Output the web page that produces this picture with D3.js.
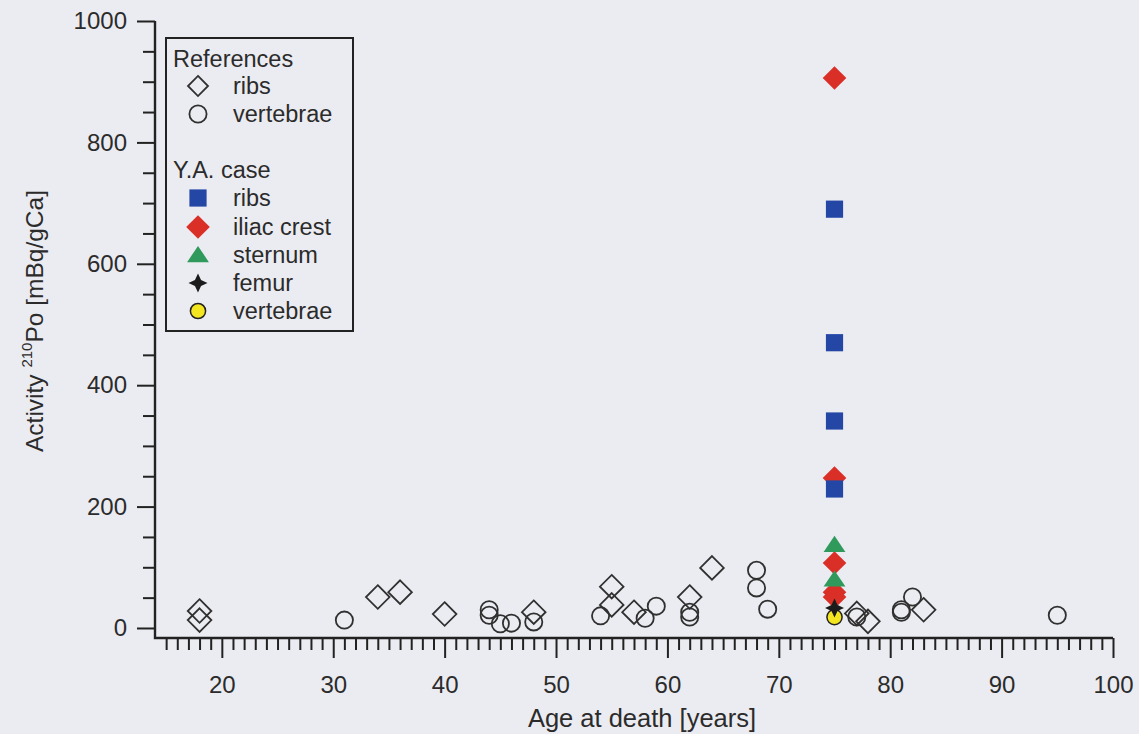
<!DOCTYPE html>
<html>
<head>
<meta charset="utf-8">
<script src="https://cdn.jsdelivr.net/npm/d3@7"></script>
<style>
  html, body { margin: 0; padding: 0; background: #ebecf1; }
  svg { display: block; }
  text { font-family: "Liberation Sans", Arial, sans-serif; fill: #2b2b2b; }
</style>
</head>
<body>
<svg id="chart" width="1139" height="734"></svg>
<script>
// Reference material: age at death and 210Po activity
const refRibsAge = [18, 18, 34, 36, 40, 48, 55, 55, 57, 62, 64, 77, 78, 83];
const refRibsVal = [28, 13, 51, 59, 23, 26, 68, 38, 26, 51, 99, 24, 11, 30];
const refVertAge = [31, 44, 44, 45, 46, 48, 54, 58, 59, 62, 62, 68, 68, 69, 77, 81, 81, 82, 95];
const refVertVal = [13, 30, 21, 7, 8, 10, 20, 16, 36, 26, 18, 95, 66, 31, 18, 30, 26, 51, 21];

// Y.A. case, all samples at the same age
const yaAge = 75;
const yaRibs = [690, 470, 341, 229];
const yaIliac = [906, 247, 107, 59, 51];
const yaSternum = [137, 80];
const yaFemur = [33];
const yaVert = [18];

const xMajorTicks = [20, 30, 40, 50, 60, 70, 80, 90, 100];
const yMajorTicks = [0, 200, 400, 600, 800, 1000];

const svg = d3.select("#chart");

const x = d3.scaleLinear().domain([14, 100]).range([155, 1113]);
const y = d3.scaleLinear().domain([-16.5, 1000]).range([638, 21]);

// ---- custom marker shapes ----
const diamondSym = { draw(ctx, s) { ctx.moveTo(0, -s); ctx.lineTo(s, 0); ctx.lineTo(0, s); ctx.lineTo(-s, 0); ctx.closePath(); } };
const squareSym = { draw(ctx, s) { ctx.rect(-s, -s, 2 * s, 2 * s); } };
const triSym = { draw(ctx, s) { ctx.moveTo(0, -s * 0.95); ctx.lineTo(s * 1.15, s * 0.75); ctx.lineTo(-s * 1.15, s * 0.75); ctx.closePath(); } };
const circleSym = { draw(ctx, s) { ctx.moveTo(s, 0); ctx.arc(0, 0, s, 0, 2 * Math.PI); } };
const starSym = { draw(ctx, s) {
  const r = s * 0.32;
  ctx.moveTo(0, -s); ctx.lineTo(r, -r); ctx.lineTo(s, 0); ctx.lineTo(r, r);
  ctx.lineTo(0, s); ctx.lineTo(-r, r); ctx.lineTo(-s, 0); ctx.lineTo(-r, -r); ctx.closePath();
} };
const sym = (type, s) => d3.symbol().type(type).size(s)();

const styles = {
  refRibs:  { path: sym(diamondSym, 11.8), fill: "none", stroke: "#303030", sw: 1.8 },
  refVert:  { path: sym(circleSym, 8.6), fill: "none", stroke: "#303030", sw: 1.8 },
  yaRibs:   { path: sym(squareSym, 8.6), fill: "#2447a6", stroke: "none", sw: 0 },
  yaIliac:  { path: sym(diamondSym, 11.8), fill: "#d92f27", stroke: "none", sw: 0 },
  yaSternum:{ path: sym(triSym, 9.5), fill: "#2f9a5c", stroke: "none", sw: 0 },
  yaFemur:  { path: sym(starSym, 9.5), fill: "#1b1b1b", stroke: "none", sw: 0 },
  yaVert:   { path: sym(circleSym, 7.6), fill: "#f3e51f", stroke: "#222", sw: 1.5 }
};

// ---- axes ----
const axes = svg.append("g");
const yMinor = d3.range(0, 1001, 50).filter(v => v % 200 !== 0);
axes.append("g").attr("transform", "translate(155,0)")
  .call(d3.axisLeft(y).tickValues(yMinor).tickSize(12).tickFormat(""))
  .call(g => g.select(".domain").remove());
axes.append("g").attr("transform", "translate(155,0)")
  .call(d3.axisLeft(y).tickValues(yMajorTicks).tickSize(18).tickPadding(10).tickFormat(d3.format("d")))
  .call(g => g.select(".domain").remove());

const xMinor = d3.range(15, 101, 1).filter(v => v % 10 !== 0);
axes.append("g").attr("transform", "translate(0,638)")
  .call(d3.axisBottom(x).tickValues(xMinor).tickSize(12).tickFormat(""))
  .call(g => g.select(".domain").remove());
axes.append("g").attr("transform", "translate(0,638)")
  .call(d3.axisBottom(x).tickValues(xMajorTicks).tickSize(20).tickPadding(18).tickFormat(d3.format("d")))
  .call(g => g.select(".domain").remove());

axes.selectAll(".tick line").attr("stroke", "#222").attr("stroke-width", 2);
axes.selectAll(".tick text").attr("font-size", 24).attr("fill", "#2b2b2b")
  .attr("font-family", "Liberation Sans, Arial, sans-serif");

// axis lines meeting at the corner
axes.append("path")
  .attr("d", `M${x(14)},${y(1000)} V${y(-16.5)} H${x(100)}`)
  .attr("fill", "none").attr("stroke", "#222").attr("stroke-width", 2.4);

// axis titles
svg.append("text")
  .attr("x", 642).attr("y", 727).attr("text-anchor", "middle").attr("font-size", 25.5)
  .text("Age at death [years]");

const yt = svg.append("text")
  .attr("transform", "translate(43,321) rotate(-90)")
  .attr("text-anchor", "middle").attr("font-size", 24.5);
yt.append("tspan").text("Activity ");
yt.append("tspan").attr("font-size", 15).attr("dy", -11).text("210");
yt.append("tspan").attr("dy", 11).text("Po [mBq/gCa]");

// ---- data points ----
const plot = svg.append("g");
function drawSeries(ages, vals, st) {
  const pts = ages.map((a, i) => [a, vals[i]]);
  plot.append("g").selectAll("path").data(pts).join("path")
    .attr("d", st.path)
    .attr("transform", d => `translate(${x(d[0])},${y(d[1])})`)
    .attr("fill", st.fill).attr("stroke", st.stroke).attr("stroke-width", st.sw);
}
drawSeries(refRibsAge, refRibsVal, styles.refRibs);
drawSeries(refVertAge, refVertVal, styles.refVert);
drawSeries(yaIliac.map(() => yaAge), yaIliac, styles.yaIliac);
drawSeries(yaRibs.map(() => yaAge), yaRibs, styles.yaRibs);
drawSeries(yaSternum.map(() => yaAge), yaSternum, styles.yaSternum);
drawSeries(yaVert.map(() => yaAge), yaVert, styles.yaVert);
drawSeries(yaFemur.map(() => yaAge), yaFemur, styles.yaFemur);

// ---- legend ----
const legend = svg.append("g");
legend.append("rect").attr("x", 166).attr("y", 38).attr("width", 187).attr("height", 293)
  .attr("fill", "none").attr("stroke", "#222").attr("stroke-width", 2);

const legendRows = [
  { label: "References", y: 59, header: true },
  { label: "ribs", y: 86, st: styles.refRibs, scale: 0.85 },
  { label: "vertebrae", y: 114, st: styles.refVert, scale: 1 },
  { label: "Y.A. case", y: 170, header: true },
  { label: "ribs", y: 198, st: styles.yaRibs, scale: 1 },
  { label: "iliac crest", y: 227, st: styles.yaIliac, scale: 1 },
  { label: "sternum", y: 255, st: styles.yaSternum, scale: 1 },
  { label: "femur", y: 283, st: styles.yaFemur, scale: 1 },
  { label: "vertebrae", y: 311, st: styles.yaVert, scale: 1 }
];
legendRows.forEach(r => {
  if (r.header) {
    legend.append("text").attr("x", 173).attr("y", r.y).attr("dy", "0.36em")
      .attr("font-size", 23.5).text(r.label);
  } else {
    legend.append("path").attr("d", r.st.path)
      .attr("transform", `translate(198,${r.y}) scale(${r.scale})`)
      .attr("fill", r.st.fill).attr("stroke", r.st.stroke).attr("stroke-width", r.st.sw / r.scale);
    legend.append("text").attr("x", 233).attr("y", r.y).attr("dy", "0.36em")
      .attr("font-size", 23.5).text(r.label);
  }
});
</script>
</body>
</html>
